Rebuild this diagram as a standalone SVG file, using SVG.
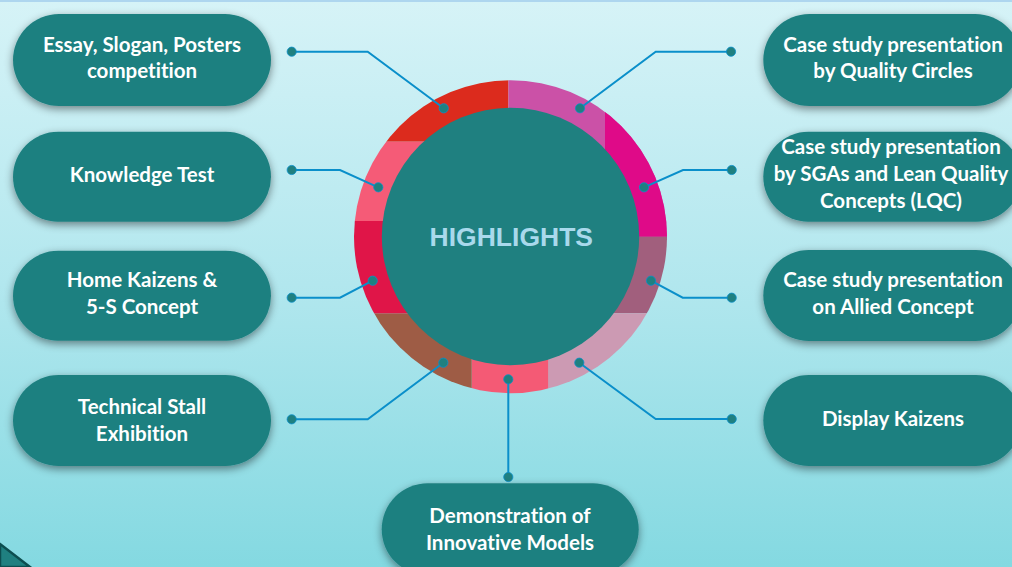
<svg xmlns="http://www.w3.org/2000/svg" width="1012" height="567" viewBox="0 0 1012 567">
<defs>
<linearGradient id="bg" x1="0" y1="0" x2="0" y2="1">
<stop offset="0" stop-color="#d6f3f7"/>
<stop offset="0.5" stop-color="#b2e7ee"/>
<stop offset="1" stop-color="#84d9e1"/>
</linearGradient>
<clipPath id="ringClip"><circle cx="510.5" cy="236.7" r="156.5"/></clipPath>
<filter id="sh" x="-20%" y="-30%" width="140%" height="170%">
<feDropShadow dx="0" dy="3" stdDeviation="4" flood-color="#000" flood-opacity="0.45"/>
</filter>
<style>
.box{fill:#1f8080;filter:url(#sh)}
.lbl{font-family:Lato,"Open Sans",sans-serif;font-weight:bold;font-size:20.5px;fill:#ffffff;text-anchor:middle;font-variant-ligatures:none}
.ln{fill:none;stroke:#0a8fca;stroke-width:2}
.dot{fill:#1f8080;stroke:#0a8fca;stroke-width:0.8}
.title{font-family:"Liberation Sans",Arial,sans-serif;font-weight:bold;font-size:26.5px;fill:#a9d9ec;text-anchor:middle}
</style>
</defs>
<rect width="1012" height="567" fill="url(#bg)"/>
<rect width="1012" height="2" fill="#aed6ef"/>
<path d="M0,544 L30,567 L0,567 Z" fill="#1f8080" stroke="#0c4e50" stroke-width="2.5"/>

<g id="ring">
<g clip-path="url(#ringClip)">
<rect x="340" y="70" width="168.5" height="71.7" fill="#dc2b1d"/>
<rect x="508.5" y="70" width="180" height="170" fill="#cb51a7"/>
<rect x="605" y="111.7" width="80" height="125" fill="#df0a88"/>
<rect x="510" y="236.7" width="180" height="76.6" fill="#a15f7d"/>
<rect x="548.3" y="313.3" width="140" height="90" fill="#cc9ab3"/>
<rect x="471.7" y="313.3" width="76.6" height="90" fill="#f45a75"/>
<rect x="340" y="313.3" width="131.7" height="90" fill="#9e5c45"/>
<rect x="340" y="221" width="170" height="92.3" fill="#e01548"/>
<rect x="340" y="141.7" width="170" height="79.3" fill="#f55b77"/>
</g>
<circle cx="510.5" cy="236.5" r="128.7" fill="#1f8080"/>
<text class="title" x="511.3" y="245.7">HIGHLIGHTS</text>
</g>

<g id="connectors">
<polyline class="ln" points="291.7,51.7 367.7,51.7 443.7,108.3"/>
<polyline class="ln" points="291.7,170 340,170 378.3,187.3"/>
<polyline class="ln" points="291.7,297.7 340,297.7 372.7,280.7"/>
<polyline class="ln" points="291.7,419.3 367.7,419.3 443.3,362.7"/>
<polyline class="ln" points="508.3,379.3 508.3,477"/>
<polyline class="ln" points="731,51.7 655.7,51.7 580,108.3"/>
<polyline class="ln" points="731.7,170 683,170 644,187.3"/>
<polyline class="ln" points="731.7,297.7 682.7,297.7 651,280.7"/>
<polyline class="ln" points="731.7,419 655.7,419 579.3,362.7"/>
<circle class="dot" cx="291.7" cy="51.7" r="4.6"/>
<circle class="dot" cx="443.7" cy="108.3" r="4.6"/>
<circle class="dot" cx="291.7" cy="170" r="4.6"/>
<circle class="dot" cx="378.3" cy="187.3" r="4.6"/>
<circle class="dot" cx="291.7" cy="297.7" r="4.6"/>
<circle class="dot" cx="372.7" cy="280.7" r="4.6"/>
<circle class="dot" cx="291.7" cy="419.3" r="4.6"/>
<circle class="dot" cx="443.3" cy="362.7" r="4.6"/>
<circle class="dot" cx="508.3" cy="379.3" r="4.6"/>
<circle class="dot" cx="508.3" cy="477" r="4.6"/>
<circle class="dot" cx="731" cy="51.7" r="4.6"/>
<circle class="dot" cx="580" cy="108.3" r="4.6"/>
<circle class="dot" cx="731.7" cy="170" r="4.6"/>
<circle class="dot" cx="644" cy="187.3" r="4.6"/>
<circle class="dot" cx="731.7" cy="297.7" r="4.6"/>
<circle class="dot" cx="651" cy="280.7" r="4.6"/>
<circle class="dot" cx="731.7" cy="419" r="4.6"/>
<circle class="dot" cx="579.3" cy="362.7" r="4.6"/>
</g>

<g id="n-essay">
<rect class="box" x="13" y="14" width="258" height="92" rx="46"/>
<text class="lbl" x="142" y="52.3">Essay, Slogan, Posters</text>
<text class="lbl" x="142" y="78.3">competition</text>
</g>
<g id="n-knowledge">
<rect class="box" x="13" y="131.7" width="258" height="90" rx="45"/>
<text class="lbl" x="142" y="182.3">Knowledge Test</text>
</g>
<g id="n-home">
<rect class="box" x="13" y="250.7" width="258" height="90" rx="45"/>
<text class="lbl" x="142" y="287.3">Home Kaizens &amp;</text>
<text class="lbl" x="142" y="314.3">5-S Concept</text>
</g>
<g id="n-stall">
<rect class="box" x="13" y="375" width="258" height="91" rx="45.5"/>
<text class="lbl" x="142" y="414">Technical Stall</text>
<text class="lbl" x="142" y="441">Exhibition</text>
</g>
<g id="n-qc">
<rect class="box" x="763.3" y="14" width="258" height="92" rx="46"/>
<text class="lbl" x="893" y="52.3">Case study presentation</text>
<text class="lbl" x="893" y="78.3">by Quality Circles</text>
</g>
<g id="n-sga">
<rect class="box" x="763.3" y="131.7" width="258" height="90" rx="45"/>
<text class="lbl" x="891" y="154.3">Case study presentation</text>
<text class="lbl" x="891" y="181">by SGAs and Lean Quality</text>
<text class="lbl" x="891" y="207.7">Concepts (LQC)</text>
</g>
<g id="n-allied">
<rect class="box" x="763.3" y="250" width="258" height="91" rx="45.5"/>
<text class="lbl" x="893" y="287.3">Case study presentation</text>
<text class="lbl" x="893" y="314.3">on Allied Concept</text>
</g>
<g id="n-display">
<rect class="box" x="763.3" y="375" width="258" height="91" rx="45.5"/>
<text class="lbl" x="893" y="426">Display Kaizens</text>
</g>
<g id="n-demo">
<rect class="box" x="381.7" y="483.3" width="257" height="92" rx="46"/>
<text class="lbl" x="510" y="523">Demonstration of</text>
<text class="lbl" x="510" y="550">Innovative Models</text>
</g>
</svg>
